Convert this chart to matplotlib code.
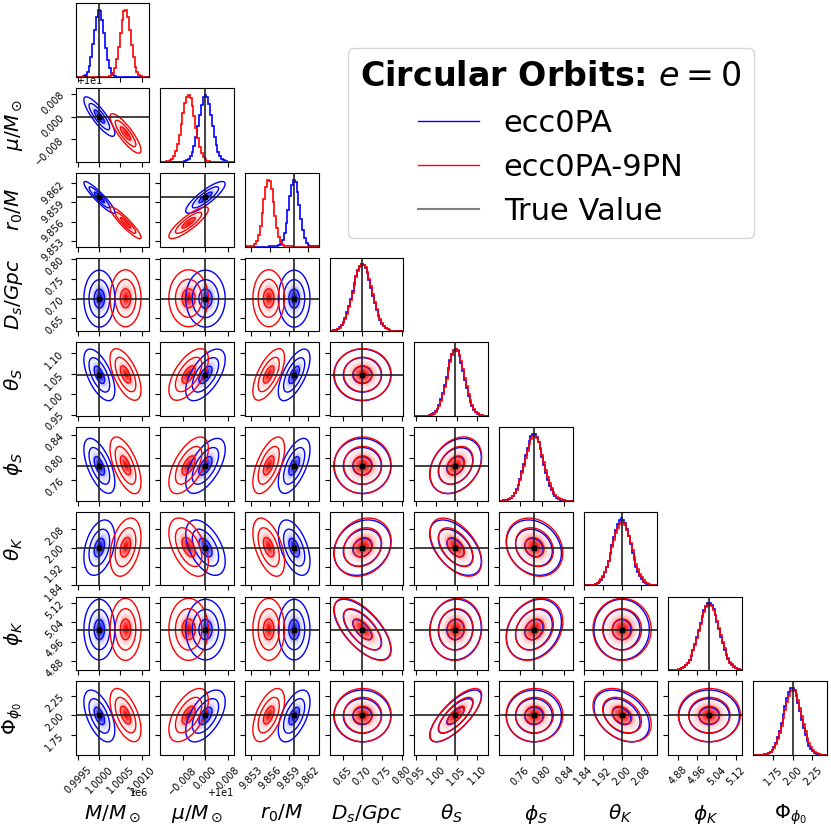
import numpy as np
import matplotlib
matplotlib.use("Agg")
import matplotlib.pyplot as plt
from matplotlib.colors import LinearSegmentedColormap, to_rgba
from matplotlib.lines import Line2D
from matplotlib.ticker import FixedLocator, NullFormatter

plt.rcParams["xtick.labelsize"] = 7
plt.rcParams["ytick.labelsize"] = 7

# Parameters and read-off posterior summaries
labels = [r"$M/M_\odot$", r"$\mu/M_\odot$", r"$r_0/M$", r"$D_s/Gpc$", r"$\theta_S$",
          r"$\phi_S$", r"$\theta_K$", r"$\phi_K$", r"$\Phi_{\phi_0}$"]
truths = [1.0e6, 10.0, 9.8598, 0.70, 1.047, 0.785, 2.00, 5.01, 2.00]

mean_pa = [1.0e6, 10.0, 9.8598, 0.700, 1.047, 0.785, 2.000, 5.010, 1.993]
mean_9pn = [1.00062e6, 9.9941, 9.8558, 0.701, 1.048, 0.786, 2.002, 5.011, 2.004]
sig_pa = [122, 0.0023, 0.00083, 0.024, 0.021, 0.0165, 0.039, 0.042, 0.110]
sig_9pn = [122, 0.0023, 0.00083, 0.024, 0.021, 0.0170, 0.041, 0.043, 0.113]

# correlations, lower triangle (row i vs columns 0..i-1)
corr = [
    [],
    [-0.85],
    [-0.92, 0.85],
    [0.0, 0.0, 0.0],
    [-0.6, 0.6, 0.65, 0.0],
    [-0.6, 0.6, 0.6, 0.0, 0.3],
    [0.35, -0.5, -0.5, 0.2, -0.5, -0.2],
    [0.0, 0.0, 0.0, -0.65, 0.05, 0.25, 0.0],
    [-0.55, 0.55, 0.55, 0.0, 0.75, 0.0, -0.35, 0.0],
]

lo = [999438, 9.9842, 9.85207, 0.6175, 0.9466, 0.7223, 1.840, 4.841, 1.496]
hi = [1001183, 10.00998, 9.86366, 0.804, 1.1266, 0.8549, 2.1516, 5.1475, 2.435]

ticks = [
    [999500, 1000000, 1000500, 1001000],
    [9.992, 10.0, 10.008],
    [9.853, 9.856, 9.859, 9.862],
    [0.65, 0.70, 0.75, 0.80],
    [0.95, 1.00, 1.05, 1.10],
    [0.76, 0.80, 0.84],
    [1.84, 1.92, 2.00, 2.08],
    [4.88, 4.96, 5.04, 5.12],
    [1.75, 2.00, 2.25],
]

series = [("ecc0PA", "blue", mean_pa, sig_pa), ("ecc0PA-9PN", "red", mean_9pn, sig_9pn)]
nbins = 40
ndim = len(labels)

fig, axes = plt.subplots(ndim, ndim, figsize=(8.31, 8.31), dpi=100)
fig.subplots_adjust(left=0.091, right=0.995, bottom=0.0915, top=0.996,
                    wspace=0.15, hspace=0.15)

# contour levels at 1, 2, 3 sigma (2D)
levels = [np.exp(-0.5 * r ** 2) for r in (3.0, 2.0, 1.0)]
white_cmap = LinearSegmentedColormap.from_list("white_fill", [(1, 1, 1, 0), (1, 1, 1, 1)])

for i in range(ndim):
    for j in range(ndim):
        ax = axes[i, j]
        if j > i:
            ax.axis("off")
            continue
        if i == j:
            edges = np.linspace(lo[i], hi[i], nbins + 1)
            centers = 0.5 * (edges[1:] + edges[:-1])
            top = 0
            for name, c, mu, sg in series:
                vals = np.exp(-0.5 * ((centers - mu[i]) / sg[i]) ** 2) / sg[i]
                ax.stairs(vals, edges, color=c, lw=1.2)
                top = max(top, vals.max())
            ax.axvline(truths[i], color="#222222", lw=1.2)
            ax.set_ylim(0, 1.1 * top)
            ax.set_yticks([])
        else:
            xg = np.linspace(lo[j], hi[j], 160)
            yg = np.linspace(lo[i], hi[i], 160)
            X, Y = np.meshgrid(xg, yg)
            rho = corr[i][j]
            ext = (lo[j], hi[j], lo[i], hi[i])
            for name, c, mu, sg in series:
                u = (X - mu[j]) / sg[j]
                v = (Y - mu[i]) / sg[i]
                Z = np.exp(-0.5 * (u ** 2 - 2 * rho * u * v + v ** 2) / (1 - rho ** 2))
                # white base hides the shading of the series underneath
                ax.imshow(Z, extent=ext, origin="lower", cmap=white_cmap, vmin=0, vmax=0.3,
                          aspect="auto", interpolation="bilinear")
                cmap = LinearSegmentedColormap.from_list("d_" + c, [(1, 1, 1, 0), to_rgba(c)])
                ax.imshow(Z, extent=ext, origin="lower", cmap=cmap, vmin=0, vmax=1,
                          aspect="auto", interpolation="bilinear")
                ax.contour(X, Y, Z, levels=levels, colors=c, linewidths=1.0)
            ax.axvline(truths[j], color="#222222", lw=1.2)
            ax.axhline(truths[i], color="#222222", lw=1.2)
            ax.plot(truths[j], truths[i], "s", color="k", ms=3.5)
            ax.set_ylim(lo[i], hi[i])
            ax.yaxis.set_major_locator(FixedLocator(ticks[i]))
            if j == 0:
                for t in ax.get_yticklabels():
                    t.set_rotation(45)
                ax.set_ylabel(labels[i], fontsize=14.5)
                ax.yaxis.set_label_coords(-0.69, 0.5)
            else:
                ax.yaxis.set_major_formatter(NullFormatter())

        ax.set_xlim(lo[j], hi[j])
        ax.xaxis.set_major_locator(FixedLocator(ticks[j]))
        if i == ndim - 1:
            for t in ax.get_xticklabels():
                t.set_rotation(45)
            ax.set_xlabel(labels[j], fontsize=14.5)
            ax.xaxis.set_label_coords(0.5, -0.65)
        else:
            ax.xaxis.set_major_formatter(NullFormatter())

handles = [Line2D([], [], color="blue", lw=1), Line2D([], [], color="red", lw=1),
           Line2D([], [], color="grey", lw=1.5)]
leg = fig.legend(handles, ["ecc0PA", "ecc0PA-9PN", "True Value"], loc="upper left",
                 bbox_to_anchor=(348 / 831, 1 - 48 / 831), borderaxespad=0,
                 fontsize=22, title=r"Circular Orbits: $e=0$",
                 title_fontproperties={"size": 24, "weight": "bold"})

# put the x offset texts ("1e6", "+1e1") just below the last tick label, above the axis labels
fig.canvas.draw()
for ax in axes[-1]:
    off = ax.xaxis.get_major_formatter().get_offset()
    if off:
        ax.xaxis.get_offset_text().set_visible(False)
        ax.text(0.99, -0.515, off, transform=ax.transAxes, ha="right", va="center", fontsize=7)

fig.savefig("out.png", dpi=100)
